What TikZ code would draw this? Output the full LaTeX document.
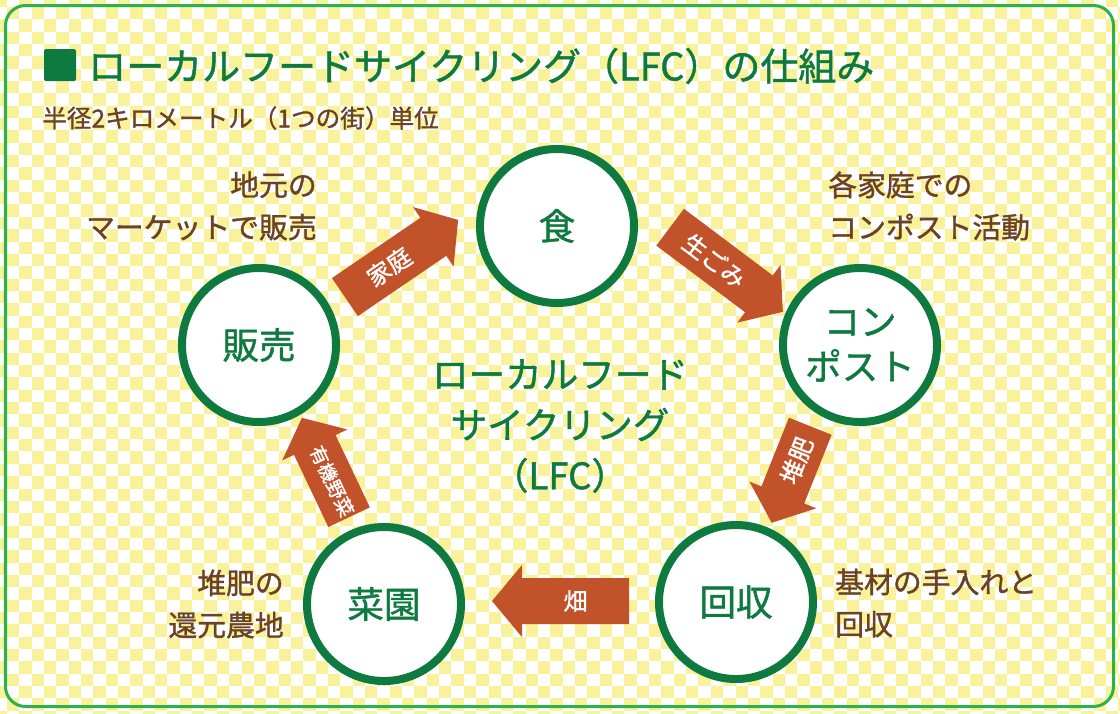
\documentclass[tikz,border=0pt]{standalone}
\usepackage{fontspec}
\setmainfont{Noto Sans CJK JP}
\newfontfamily\heavyjp{Noto Sans CJK JP}[FakeBold=1.2]
\usepackage{tikz}
\usetikzlibrary{positioning}
\definecolor{checkyellow}{HTML}{FAF29A}
\definecolor{framegreen}{HTML}{2BB24C}
\definecolor{deepgreen}{HTML}{0F7A40}
\definecolor{labelbrown}{HTML}{6B4226}
\definecolor{arrowred}{HTML}{C2522A}
\tikzset{
  stage/.style={circle, draw=deepgreen, line width=0.2cm, fill=white, minimum size=3.85cm,
    inner sep=0pt, align=center, text=deepgreen, font=\heavyjp\fontsize{26}{32}\selectfont}
}
\tikzset{
  sidetext/.style={text=labelbrown, inner sep=0pt, font=\heavyjp\fontsize{20.5}{30}\selectfont}
}
\tikzset{
  arrowfill/.style={fill=arrowred},
  arrowtext/.style={text=white, inner sep=0pt, font=\heavyjp\fontsize{17}{17}\selectfont}
}
% #1 name, #2 centre, #3 angle, #4 length, #5 text angle, #6 text
\newcommand{\flowarrow}[6]{%
  \begin{scope}[shift={#2}, rotate=#3]
    \fill[arrowfill] (-#4/2,-23) -- (#4/2-30,-23) -- (#4/2-30,-36) -- (#4/2,0)
      -- (#4/2-30,36) -- (#4/2-30,23) -- (-#4/2,23) -- cycle;
    \node[arrowtext, rotate=#5] (#1) at (-15,0) {#6};
  \end{scope}}
\begin{document}
\begin{tikzpicture}[x=0.025cm, y=-0.025cm]
  \useasboundingbox (0,0) rectangle (1120,713);
  % checkered paper
  \begin{scope}
    \clip (0,0) rectangle (1120,713);
    \fill[white] (0,0) rectangle (1120,713);
    \foreach \i in {0,...,91} {
      \foreach \j in {0,...,58} {
        \ifodd\numexpr\i+\j\relax\else
          \fill[checkyellow] (\i*12.35-5.5,\j*12.35-5.5) rectangle ++(12.35,12.35);
        \fi
      }
    }
  \end{scope}
  \draw[framegreen, line width=3pt*0.7113, rounded corners=20*0.7113pt] (5.5,5.5) rectangle (1113.5,706.5);
  % heading
  \fill[deepgreen, rounded corners=1.5pt] (44,49) rectangle (76,81);
  \node[anchor=west, inner sep=0pt, text=deepgreen, font=\heavyjp\fontsize{27}{27}\selectfont]
    (title) at (88,66) {ローカルフードサイクリング（LFC）の仕組み};
  \node[anchor=west, inner sep=0pt, text=labelbrown, font=\heavyjp\fontsize{17.5}{17.5}\selectfont]
    (scale) at (42,118) {半径2キロメートル（1つの街）単位};
  % stages of the cycle
  \node[stage] (food) at (557,226) {食};
  \node[stage] (compost) at (860,345) {コン\\ポスト};
  \node[stage] (collect) at (736,602) {回収};
  \node[stage] (garden) at (384,604) {菜園};
  \node[stage] (market) at (259,345) {販売};
  \node[align=center, inner sep=0pt, text=deepgreen, font=\heavyjp\fontsize{26}{36}\selectfont]
    (cycle) at (560,426) {ローカルフード\\サイクリング\\（LFC）};
  % arrows between stages
  \flowarrow{home}{(401.5,258.5)}{34.3}{137}{34.3}{家庭}
  \flowarrow{waste}{(726.5,269.5)}{-36.9}{141}{-36.9}{生ごみ}
  \flowarrow{manure}{(791,474.5)}{-111.8}{104}{68.2}{堆肥}
  \flowarrow{field}{(560.5,601)}{180}{137}{0}{畑}
  \flowarrow{veg}{(325.5,467.5)}{115.4}{110}{-64.6}{\fontsize{13.5}{13.5}\selectfont 有機野菜}
  % notes beside the stages
  \node[sidetext, align=right, anchor=east] (marketnote) at (317,206) {地元の\\マーケットで販売};
  \node[sidetext, align=left, anchor=west] (compostnote) at (828,206) {各家庭での\\コンポスト活動};
  \node[sidetext, align=right, anchor=east] (gardennote) at (284,604) {堆肥の\\還元農地};
  \node[sidetext, align=left, anchor=west] (collectnote) at (835,603) {基材の手入れと\\回収};
\end{tikzpicture}
\end{document}
